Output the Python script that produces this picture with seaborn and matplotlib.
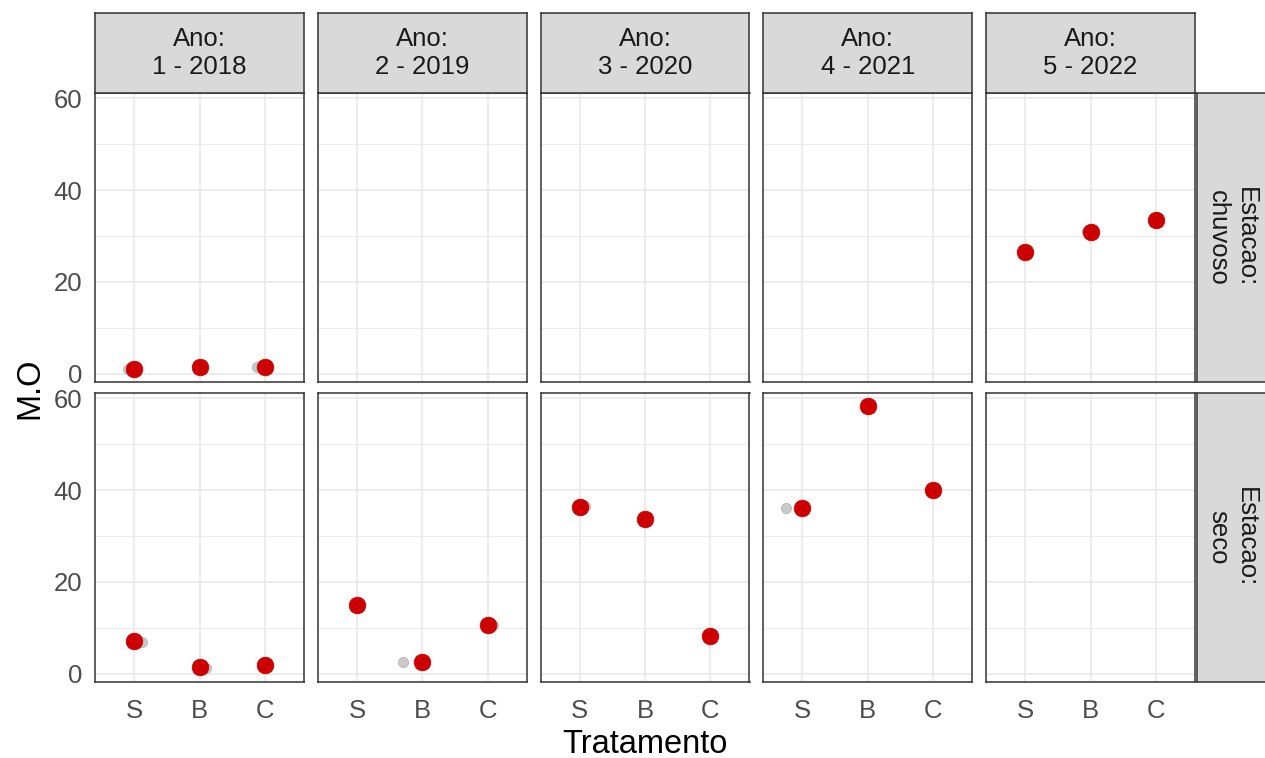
import matplotlib
matplotlib.use("Agg")
import matplotlib.pyplot as plt
import seaborn as sns
import pandas as pd

# facetas
anos = ["1 - 2018", "2 - 2019", "3 - 2020", "4 - 2021", "5 - 2022"]
estacoes = ["chuvoso", "seco"]
tratamentos = ["S", "B", "C"]

# médias de M.O (pontos vermelhos)
media_ano = ["1 - 2018"] * 3 + ["5 - 2022"] * 3 + ["1 - 2018"] * 3 + ["2 - 2019"] * 3 + ["3 - 2020"] * 3 + ["4 - 2021"] * 3
media_estacao = ["chuvoso"] * 6 + ["seco"] * 12
media_trat = tratamentos * 6
media_mo = [1.1, 1.5, 1.5, 26.5, 30.9, 33.5,
            7.2, 1.5, 2.0, 15.1, 2.6, 10.7,
            36.4, 33.7, 8.3, 36.1, 58.2, 40.1]

# observações (pontos cinza, com jitter)
obs_ano = ["1 - 2018", "1 - 2018", "5 - 2022", "1 - 2018", "1 - 2018",
           "2 - 2019", "2 - 2019", "3 - 2020", "4 - 2021"]
obs_estacao = ["chuvoso", "chuvoso", "chuvoso", "seco", "seco", "seco", "seco", "seco", "seco"]
obs_trat = ["S", "C", "B", "S", "B", "B", "C", "S", "S"]
obs_mo = [1.0, 1.6, 31.0, 7.0, 1.4, 2.5, 10.7, 36.5, 36.1]
obs_jitter = [-0.1, -0.12, -0.05, 0.12, 0.1, -0.3, 0.08, 0.08, -0.25]

medias = pd.DataFrame({"Ano": media_ano, "Estacao": media_estacao,
                       "Tratamento": media_trat, "MO": media_mo})
medias["x"] = medias["Tratamento"].map(tratamentos.index)
obs = pd.DataFrame({"Ano": obs_ano, "Estacao": obs_estacao,
                    "Tratamento": obs_trat, "MO": obs_mo, "j": obs_jitter})
obs["x"] = obs["Tratamento"].map(tratamentos.index) + obs["j"]

sns.set_style("white")
plt.rcParams["font.family"] = ["Liberation Sans", "DejaVu Sans"]

W, H = 1265, 758
fig = plt.figure(figsize=(W / 100, H / 100), dpi=100)

lefts = [95 + i * 222.75 for i in range(5)]
pw = 209
tops = [93, 393]
ph = 289
dark = "#333333"
fs_small = 18.5
fs_title = 23.5

def fr(x, y, w, h):
    return [x / W, 1 - (y + h) / H, w / W, h / H]

def strip(ax):
    ax.set_xlim(0, 1)
    ax.set_ylim(0, 1)
    ax.set_facecolor("#D9D9D9")
    for s in ax.spines.values():
        s.set_color(dark)
        s.set_linewidth(1.1)
    ax.set_xticks([])
    ax.set_yticks([])

for r, est in enumerate(estacoes):
    for c, ano in enumerate(anos):
        ax = fig.add_axes(fr(lefts[c], tops[r], pw, ph))
        ax.set_xlim(-0.6, 2.6)
        ax.set_ylim(-1.75, 61.1)
        ax.set_yticks([0, 20, 40, 60])
        ax.set_yticks([10, 30, 50], minor=True)
        ax.set_xticks([0, 1, 2])
        ax.grid(True, which="major", color="#EBEBEB", lw=1.3)
        ax.grid(True, which="minor", axis="y", color="#EBEBEB", lw=0.7)
        ax.set_axisbelow(True)
        for s in ax.spines.values():
            s.set_color(dark)
            s.set_linewidth(1.1)
        o = obs[(obs.Ano == ano) & (obs.Estacao == est)]
        m = medias[(medias.Ano == ano) & (medias.Estacao == est)]
        if len(o):
            sns.scatterplot(data=o, x="x", y="MO", ax=ax, color="#A6A6A6",
                            alpha=0.6, s=55, edgecolor="#8C8C8C", linewidth=0.5, legend=False)
        if len(m):
            sns.scatterplot(data=m, x="x", y="MO", ax=ax, color="#CC0000",
                            s=145, edgecolor="#CC0000", linewidth=0.5, legend=False, zorder=3)
        ax.set_xlabel("")
        ax.set_ylabel("")
        ax.tick_params(which="major", length=4.3, color=dark, width=1.1,
                       labelsize=fs_small, labelcolor="#4D4D4D", pad=5)
        ax.tick_params(which="minor", length=0)
        if c == 0:
            ax.set_yticklabels(["0", "20", "40", "60"])
        else:
            ax.tick_params(axis="y", which="major", length=0, labelleft=False)
        if r == 1:
            ax.set_xticklabels(tratamentos)
            ax.tick_params(axis="x", pad=8)
        else:
            ax.tick_params(axis="x", which="major", length=0, labelbottom=False)

        # faixa superior
        if r == 0:
            sax = fig.add_axes(fr(lefts[c], 13, pw, 80))
            strip(sax)
            sax.text(0.5, 0.5, "Ano:\n" + ano, ha="center", va="center",
                     fontsize=fs_small, color="#1A1A1A", linespacing=1.2)

    # faixa lateral
    rax = fig.add_axes(fr(1197, tops[r], 70, ph))
    strip(rax)
    rax.text(0.5, 0.5, "Estacao:\n" + est, ha="center", va="center",
             rotation=-90, fontsize=fs_small, color="#1A1A1A", linespacing=1.2)

fig.text(30 / W, 1 - 388 / H, "M.O", rotation=90, ha="center", va="center",
         fontsize=fs_title, color="black")
fig.text(645 / W, 1 - 753 / H, "Tratamento", ha="center", va="baseline",
         fontsize=fs_title, color="black")

fig.savefig("out.png", dpi=100)
